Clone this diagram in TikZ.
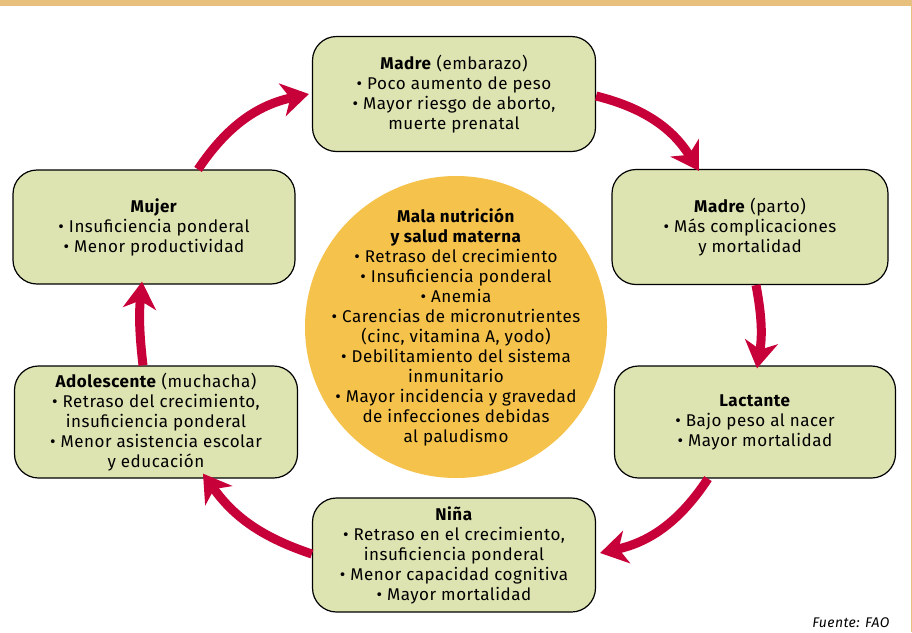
\documentclass[tikz,border=0pt]{standalone}
\usepackage{fontspec}
\setmainfont{Fira Sans}[LetterSpace=3]
\usetikzlibrary{arrows.meta}
\definecolor{boxg}{RGB}{221,227,177}
\definecolor{circy}{RGB}{245,194,76}
\definecolor{arrred}{RGB}{200,0,58}
\definecolor{barc}{RGB}{232,192,126}
\begin{document}
\begin{tikzpicture}[x=1pt,y=-1pt,
  box/.style={draw=black, line width=1.2pt, fill=boxg, rounded corners=24pt, align=center,
    font=\fontsize{17}{20}\selectfont, inner sep=0pt},
  arr/.style={draw=arrred, line width=9pt, -{Stealth[length=27pt,width=33pt,inset=8pt]}}]
\useasboundingbox (0,0) rectangle (912,632);
\fill[white] (0,0) rectangle (912,632);
\fill[barc] (0,0) rectangle (912,6);
\draw[barc, line width=1pt] (911,6) -- (911,632);

\node[box, minimum width=283pt, minimum height=115pt] (emb) at (454,94)
  {\textbf{Madre} (embarazo)\\ • Poco aumento de peso\\ • Mayor riesgo de aborto,\\ muerte prenatal};
\node[box, minimum width=276pt, minimum height=115pt] (parto) at (750,227)
  {\textbf{Madre} (parto)\\ • Más complicaciones\\ y mortalidad};
\node[box, minimum width=281pt, minimum height=112pt] (lact) at (755,422)
  {\textbf{Lactante}\\ • Bajo peso al nacer\\ • Mayor mortalidad};
\node[box, minimum width=283pt, minimum height=114pt] (nina) at (454,555)
  {\textbf{Niña}\\ • Retraso en el crecimiento,\\ insuficiencia ponderal\\ • Menor capacidad cognitiva\\ • Mayor mortalidad};
\node[box, minimum width=283pt, minimum height=112pt] (adol) at (156,422)
  {\textbf{Adolescente} (muchacha)\\ • Retraso del crecimiento,\\ insuficiencia ponderal\\ • Menor asistencia escolar\\ y educación};
\node[box, minimum width=282pt, minimum height=114pt] (mujer) at (154,227)
  {\textbf{Mujer}\\ • Insuficiencia ponderal\\ • Menor productividad};

\node[circle, fill=circy, minimum size=302pt, inner sep=0pt] (centro) at (456,327) {};
\node[align=center, inner sep=0pt, font=\fontsize{17}{20}\selectfont] (centrotxt) at (centro.center)
  {\textbf{Mala nutrición}\\ \textbf{y salud materna}\\ • Retraso del crecimiento\\ • Insuficiencia ponderal\\ • Anemia\\
   • Carencias de micronutrientes\\ (cinc, vitamina A, yodo)\\ • Debilitamiento del sistema\\ inmunitario\\
   • Mayor incidencia y gravedad\\ de infecciones debidas\\ al paludismo};

\draw[arr] ([xshift=44pt]mujer.north) to[bend left=22] ([xshift=-3pt]emb.west);
\draw[arr] ([yshift=-2pt]emb.east) to[bend left=22] ([xshift=-51pt,yshift=-2pt]parto.north);
\draw[arr] ([xshift=6pt]parto.south) to[bend left=10] ([xshift=2pt,yshift=-3pt]lact.north);
\draw[arr] ([xshift=-47pt]lact.south) to[bend left=22] ([xshift=4pt,yshift=2pt]nina.east);
\draw[arr] ([yshift=1pt]nina.west) to[bend left=18] ([xshift=47pt,yshift=5pt]adol.south);
\draw[arr] ([xshift=-13pt]adol.north) to[bend left=6] ([xshift=-12pt,yshift=3pt]mujer.south);

\node[anchor=base east, font=\fontsize{14}{16}\selectfont\itshape] (src) at (893,627) {Fuente: FAO};
\end{tikzpicture}
\end{document}
